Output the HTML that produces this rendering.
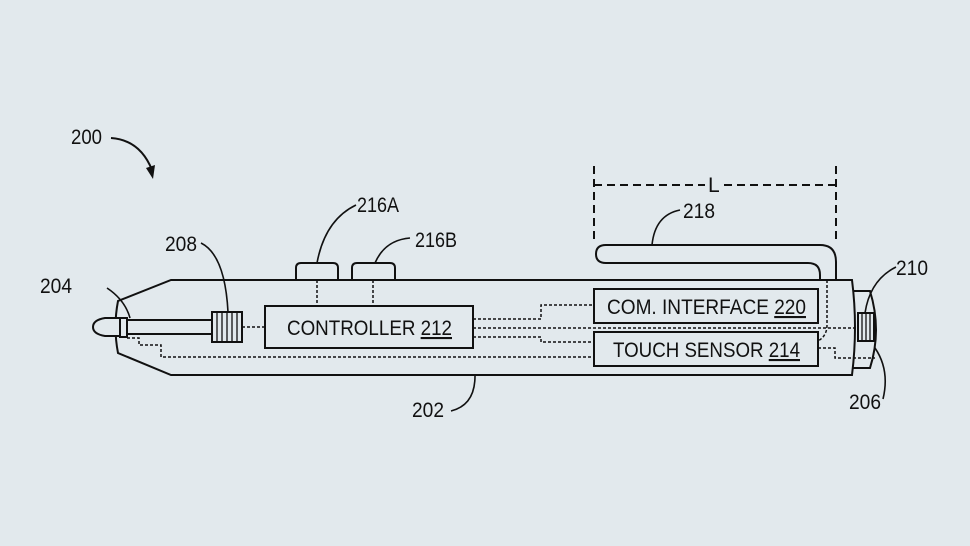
<!DOCTYPE html>
<html><head><style>
html,body{margin:0;padding:0;background:#e2e9ed;}
svg{display:block;}
text{font-family:"Liberation Sans",sans-serif;font-size:21px;fill:#111;}
</style></head><body>
<svg width="970" height="546" viewBox="0 0 970 546" xmlns="http://www.w3.org/2000/svg">
<rect width="970" height="546" fill="#e2e9ed"/>
<g fill="none" stroke="#111" stroke-width="2">
<path d="M171,280 L852,280 Q858,327 852,375 L171,375 L118,353 Q113,327 118,301 Z" fill="#e2e9ed"/>
<path d="M853,291 L870,291 Q882,330 870,368 L853,368" />
<path d="M120,318 H105 Q93,320 93,327 Q93,334 105,336 H120" fill="#e2e9ed"/>
<rect x="120" y="318" width="7" height="19" fill="#e2e9ed"/>
<rect x="127" y="320" width="85" height="14"/>
<rect x="212" y="312" width="30" height="30"/>
<path d="M217,312V342M222,312V342M227,312V342M232,312V342M237,312V342" stroke-width="1.3"/>
<rect x="858" y="313" width="16" height="28"/>
<path d="M862,313V341M866,313V341M870,313V341" stroke-width="1.3"/>
<path d="M296,280 V268 Q296,263 301,263 H333 Q338,263 338,268 V280"/>
<path d="M352,280 V268 Q352,263 357,263 H390 Q395,263 395,268 V280"/>
<rect x="265" y="306" width="208" height="42"/>
<rect x="594" y="289" width="224" height="34"/>
<rect x="594" y="332" width="224" height="34"/>
<path d="M836,280 V262 Q836,245 820,245 H606 Q596,245 596,254 Q596,263 606,263 H808 Q820,263 820,275 V280"/>
<path d="M107,288 Q125,300 130,318" stroke-width="1.6"/>
<path d="M201,243 Q225,255 228,312" stroke-width="1.6"/>
<path d="M356,205 Q325,220 317,263" stroke-width="1.6"/>
<path d="M410,238 Q385,240 375,263" stroke-width="1.6"/>
<path d="M680,210 Q655,215 652,245" stroke-width="1.6"/>
<path d="M896,267 Q870,280 865,313" stroke-width="1.6"/>
<path d="M883,399 Q890,370 875,348" stroke-width="1.6"/>
<path d="M451,411 Q475,405 475,376" stroke-width="1.6"/>
<path d="M111,138 Q140,140 152,170" stroke-width="2"/>
</g>
<polygon points="146,168 155,165 153,179" fill="#111"/>
<g fill="none" stroke="#111" stroke-width="1.5" stroke-dasharray="3,2">
<path d="M242,327 H265"/>
<path d="M317,280 V306 M373,280 V306"/>
<path d="M473,319 H541 V305 H594"/>
<path d="M473,328 H855"/>
<path d="M473,337 H541 V342 H594"/>
<path d="M127,338 H139 V345 H161 V357 H594"/>
<path d="M818,348 H835 V358 H875"/>
<path d="M827,280 V325 Q827,336 818,341"/>
</g>
<g stroke="#111" stroke-width="2" stroke-dasharray="8,5" fill="none">
<path d="M594,166 V240 M836,166 V240"/>
<path d="M594,185 H705 M724,185 H836"/>
</g>
<text x="708" y="192">L</text>
<text x="287" y="335" textLength="165" lengthAdjust="spacingAndGlyphs">CONTROLLER <tspan text-decoration="underline">212</tspan></text>
<text x="607" y="314" textLength="199" lengthAdjust="spacingAndGlyphs">COM. INTERFACE <tspan text-decoration="underline">220</tspan></text>
<text x="613" y="357" textLength="187" lengthAdjust="spacingAndGlyphs">TOUCH SENSOR <tspan text-decoration="underline">214</tspan></text>
<text x="71" y="144" textLength="31" lengthAdjust="spacingAndGlyphs">200</text>
<text x="357" y="212" textLength="42" lengthAdjust="spacingAndGlyphs">216A</text>
<text x="415" y="247" textLength="42" lengthAdjust="spacingAndGlyphs">216B</text>
<text x="165" y="251" textLength="32" lengthAdjust="spacingAndGlyphs">208</text>
<text x="40" y="293" textLength="32" lengthAdjust="spacingAndGlyphs">204</text>
<text x="683" y="218" textLength="32" lengthAdjust="spacingAndGlyphs">218</text>
<text x="896" y="275" textLength="32" lengthAdjust="spacingAndGlyphs">210</text>
<text x="849" y="409" textLength="32" lengthAdjust="spacingAndGlyphs">206</text>
<text x="412" y="417" textLength="32" lengthAdjust="spacingAndGlyphs">202</text>
</svg>
</body></html>
